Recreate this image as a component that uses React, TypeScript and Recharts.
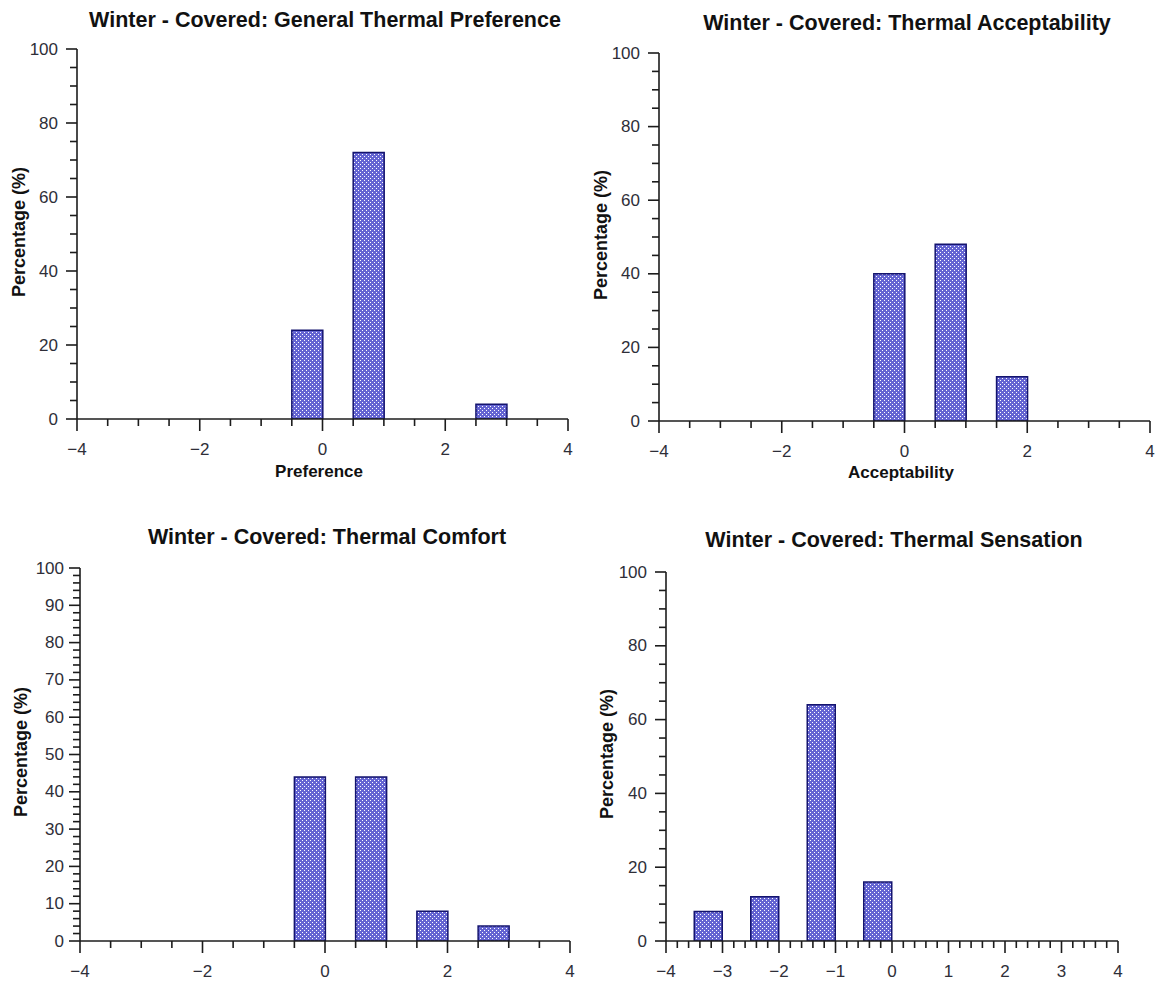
import React from 'react';
import { BarChart, Bar, XAxis, YAxis } from 'recharts';

// ---------- data ----------
const preferenceValues = [0, 1, 3];
const preferencePercent = [24, 72, 4];

const acceptabilityValues = [0, 1, 2];
const acceptabilityPercent = [40, 48, 12];

const comfortValues = [0, 1, 2, 3];
const comfortPercent = [44, 44, 8, 4];

const sensationValues = [-3, -2, -1, 0];
const sensationPercent = [8, 12, 64, 16];

// tick labels
const xLabelsEven = [-4, -2, 0, 2, 4];
const xLabelsUnit = [-4, -3, -2, -1, 0, 1, 2, 3, 4];
const yLabels20 = [0, 20, 40, 60, 80, 100];
const yLabels10 = [0, 10, 20, 30, 40, 50, 60, 70, 80, 90, 100];

const X_MIN = -4;
const X_MAX = 4;
const BIN_WIDTH = 0.5;

const range = (a: number, b: number, step: number) => {
  const out: number[] = [];
  const n = Math.round((b - a) / step);
  for (let i = 0; i <= n; i++) out.push(+(a + i * step).toFixed(6));
  return out;
};

// histogram table: each response value v is drawn as the bin [v - 0.5, v]
const buildBins = (values: number[], percents: number[]) => {
  const n = Math.round((X_MAX - X_MIN) / BIN_WIDTH);
  const rows: { bin: string; mid: number; pct: number | null }[] = [];
  for (let i = 0; i < n; i++) {
    const hi = +(X_MIN + (i + 1) * BIN_WIDTH).toFixed(6);
    const idx = values.findIndex((v) => Math.abs(v - hi) < 1e-6);
    rows.push({ bin: String(i), mid: hi - BIN_WIDTH / 2, pct: idx >= 0 ? percents[idx] : null });
  }
  return rows;
};

const FONT = '"Liberation Sans", Arial, sans-serif';
const AXIS = '#1c1c1c';
const TICK_TEXT = '#2e2e38';

const fmt = (v: number) => (v < 0 ? '\u2212' + Math.abs(v) : String(v));
const isIn = (list: number[], v: number) => list.some((l) => Math.abs(l - v) < 1e-6);

const XTick = (props: any) => {
  const { x, y, payload, labels } = props;
  const major = isIn(labels, payload.value);
  return (
    <g>
      <line x1={x} y1={y} x2={x} y2={y + (major ? 12 : 7)} stroke={AXIS} strokeWidth={1.6} />
      {major && (
        <text x={x} y={y + 30} textAnchor="middle" dominantBaseline="central" fontFamily={FONT} fontSize={17} fill={TICK_TEXT}>
          {fmt(payload.value)}
        </text>
      )}
    </g>
  );
};

const YTick = (props: any) => {
  const { x, y, payload, labels, gap } = props;
  const major = isIn(labels, payload.value);
  return (
    <g>
      <line x1={x} y1={y} x2={x - (major ? 11 : 7)} y2={y} stroke={AXIS} strokeWidth={1.6} />
      {major && (
        <text x={x - gap} y={y} textAnchor="end" dominantBaseline="central" fontFamily={FONT} fontSize={17} fill={TICK_TEXT}>
          {fmt(payload.value)}
        </text>
      )}
    </g>
  );
};

type PanelProps = {
  id: string;
  box: { left: number; top: number; width: number; height: number };
  plot: { x0: number; x1: number; y0: number; y1: number };
  title: string;
  titlePos: { x: number; y: number };
  xLabel?: string;
  xLabelPos?: { x: number; y: number };
  yLabelPos: { x: number; y: number };
  values: number[];
  percents: number[];
  xLabels: number[];
  xMinorStep: number;
  yLabels: number[];
  yMinorStep: number;
  yGap: number;
};

const Panel = (p: PanelProps) => {
  const Y_AXIS_W = 60;
  const X_AXIS_H = 40;
  const margin = {
    left: p.plot.x0 - p.box.left - Y_AXIS_W,
    right: p.box.left + p.box.width - p.plot.x1,
    top: p.plot.y0 - p.box.top,
    bottom: p.box.top + p.box.height - p.plot.y1 - X_AXIS_H,
  };
  const data = buildBins(p.values, p.percents);
  const xTicks = range(X_MIN, X_MAX, p.xMinorStep);
  const yTicks = range(0, 100, p.yMinorStep);
  const boldText: React.CSSProperties = {
    position: 'absolute',
    fontFamily: FONT,
    fontWeight: 'bold',
    color: '#111',
    whiteSpace: 'nowrap',
    lineHeight: 1,
  };
  return (
    <div style={{ position: 'absolute', left: p.box.left, top: p.box.top, width: p.box.width, height: p.box.height }}>
      <BarChart width={p.box.width} height={p.box.height} data={data} margin={margin} barCategoryGap={0}>
        <defs>
          <pattern id={`dots-${p.id}`} x={0} y={0} width={4} height={4} patternUnits="userSpaceOnUse">
            <rect x={0} y={0} width={4} height={4} fill="#6464d2" />
            <rect x={0} y={0} width={1} height={1} fill="#ffffff" />
            <rect x={2} y={2} width={1} height={1} fill="#ffffff" />
          </pattern>
        </defs>
        <XAxis xAxisId="band" dataKey="bin" type="category" hide height={0} />
        <XAxis
          xAxisId="num"
          dataKey="mid"
          type="number"
          domain={[X_MIN, X_MAX]}
          allowDataOverflow
          ticks={xTicks}
          interval={0}
          height={X_AXIS_H}
          tickSize={0}
          tickMargin={0}
          tickLine={false}
          axisLine={{ stroke: AXIS, strokeWidth: 1.6 }}
          tick={(tp: any) => <XTick {...tp} labels={p.xLabels} />}
        />
        <YAxis
          type="number"
          domain={[0, 100]}
          allowDataOverflow
          ticks={yTicks}
          interval={0}
          width={Y_AXIS_W}
          tickSize={0}
          tickMargin={0}
          tickLine={false}
          axisLine={{ stroke: AXIS, strokeWidth: 1.6 }}
          tick={(tp: any) => <YTick {...tp} labels={p.yLabels} gap={p.yGap} />}
        />
        <Bar
          xAxisId="band"
          dataKey="pct"
          fill={`url(#dots-${p.id})`}
          stroke="#14146e"
          strokeWidth={1.5}
          isAnimationActive={false}
        />
      </BarChart>
      <div
        style={{
          ...boldText,
          fontSize: 21.5,
          left: p.titlePos.x - p.box.left,
          top: p.titlePos.y - p.box.top,
          transform: 'translate(-50%, -50%)',
        }}
      >
        {p.title}
      </div>
      {p.xLabel && p.xLabelPos && (
        <div
          style={{
            ...boldText,
            fontSize: 17,
            left: p.xLabelPos.x - p.box.left,
            top: p.xLabelPos.y - p.box.top,
            transform: 'translate(-50%, -50%)',
          }}
        >
          {p.xLabel}
        </div>
      )}
      <div
        style={{
          ...boldText,
          fontSize: 18,
          left: p.yLabelPos.x - p.box.left,
          top: p.yLabelPos.y - p.box.top,
          transform: 'translate(-50%, -50%) rotate(-90deg)',
        }}
      >
        Percentage (%)
      </div>
    </div>
  );
};

export default function App() {
  return (
    <div style={{ position: 'absolute', left: 0, top: 0, width: 1160, height: 983, background: '#fff', overflow: 'hidden' }}>
      <Panel
        id="pref"
        box={{ left: 0, top: 0, width: 580, height: 490 }}
        plot={{ x0: 77, x1: 568, y0: 49, y1: 419 }}
        title="Winter - Covered: General Thermal Preference"
        titlePos={{ x: 325, y: 21 }}
        xLabel="Preference"
        xLabelPos={{ x: 319, y: 471 }}
        yLabelPos={{ x: 19, y: 232 }}
        values={preferenceValues}
        percents={preferencePercent}
        xLabels={xLabelsEven}
        xMinorStep={0.5}
        yLabels={yLabels20}
        yMinorStep={5}
        yGap={19}
      />
      <Panel
        id="acc"
        box={{ left: 580, top: 0, width: 580, height: 490 }}
        plot={{ x0: 659, x1: 1150, y0: 53, y1: 421 }}
        title="Winter - Covered: Thermal Acceptability"
        titlePos={{ x: 907, y: 24 }}
        xLabel="Acceptability"
        xLabelPos={{ x: 901, y: 472 }}
        yLabelPos={{ x: 601, y: 235 }}
        values={acceptabilityValues}
        percents={acceptabilityPercent}
        xLabels={xLabelsEven}
        xMinorStep={0.5}
        yLabels={yLabels20}
        yMinorStep={5}
        yGap={19}
      />
      <Panel
        id="comf"
        box={{ left: 0, top: 490, width: 580, height: 493 }}
        plot={{ x0: 80, x1: 570, y0: 568, y1: 941 }}
        title="Winter - Covered: Thermal Comfort"
        titlePos={{ x: 327, y: 538 }}
        yLabelPos={{ x: 21, y: 752 }}
        values={comfortValues}
        percents={comfortPercent}
        xLabels={xLabelsEven}
        xMinorStep={0.5}
        yLabels={yLabels10}
        yMinorStep={2}
        yGap={16}
      />
      <Panel
        id="sens"
        box={{ left: 580, top: 490, width: 580, height: 493 }}
        plot={{ x0: 666, x1: 1118, y0: 572, y1: 941 }}
        title="Winter - Covered: Thermal Sensation"
        titlePos={{ x: 894, y: 541 }}
        yLabelPos={{ x: 607, y: 754 }}
        values={sensationValues}
        percents={sensationPercent}
        xLabels={xLabelsUnit}
        xMinorStep={0.2}
        yLabels={yLabels20}
        yMinorStep={5}
        yGap={19}
      />
    </div>
  );
}
